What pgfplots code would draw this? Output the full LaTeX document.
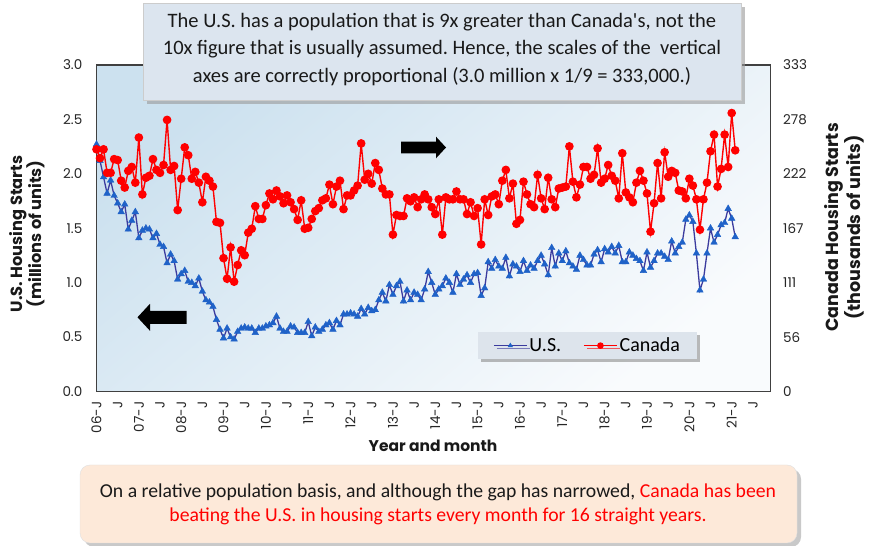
\documentclass[border=0pt]{standalone}
\usepackage{pgfplots}
\pgfplotsset{compat=1.18}
\usepackage{pgfplotstable}
\usepackage{fontspec}
\usetikzlibrary{shadows}
\setmainfont{Carlito}
\newfontfamily\gothic{Poppins}
\frenchspacing

\definecolor{usline}{HTML}{3B3B9E}
\definecolor{usmark}{HTML}{1F62C8}
\definecolor{canred}{HTML}{FF0000}
\definecolor{topbox}{HTML}{DCE5EF}
\definecolor{botbox}{HTML}{FDE9D9}
\definecolor{legbox}{HTML}{DDE4EC}
\definecolor{frame}{HTML}{404040}
\definecolor{bgblue}{HTML}{CCE1EF}
\definecolor{bgwhite}{HTML}{F9FBFD}

% U.S. starts, millions, month 0 = Jan 2006
\pgfplotstableread{
m us
0 2.27
1 2.12
2 1.97
3 1.82
4 1.94
5 1.80
6 1.73
7 1.65
8 1.72
9 1.49
10 1.57
11 1.65
12 1.41
13 1.48
14 1.50
15 1.49
16 1.41
17 1.45
18 1.35
19 1.33
20 1.18
21 1.26
22 1.20
23 1.03
24 1.08
25 1.11
26 1.01
27 1.00
28 0.97
29 1.04
30 0.92
31 0.84
32 0.82
33 0.78
34 0.66
35 0.57
36 0.49
37 0.58
38 0.50
39 0.48
40 0.55
41 0.58
42 0.59
43 0.58
44 0.58
45 0.54
46 0.58
47 0.58
48 0.60
49 0.61
50 0.63
51 0.69
52 0.58
53 0.55
54 0.55
55 0.60
56 0.59
57 0.54
58 0.54
59 0.54
60 0.64
61 0.51
62 0.59
63 0.55
64 0.57
65 0.61
66 0.63
67 0.57
68 0.65
69 0.61
70 0.71
71 0.71
72 0.72
73 0.71
74 0.69
75 0.76
76 0.71
77 0.77
78 0.74
79 0.75
80 0.84
81 0.91
82 0.83
83 0.98
84 0.89
85 0.97
86 1.01
87 0.83
88 0.93
89 0.84
90 0.91
91 0.89
92 0.84
93 0.94
94 1.10
95 1.00
96 0.89
97 0.94
98 0.97
99 1.04
100 1.00
101 0.91
102 1.08
103 0.98
104 1.03
105 1.07
106 1.00
107 1.08
108 1.09
109 0.88
110 0.95
111 1.19
112 1.13
113 1.21
114 1.15
115 1.13
116 1.23
117 1.06
118 1.17
119 1.15
120 1.10
121 1.20
122 1.11
123 1.16
124 1.13
125 1.20
126 1.25
127 1.17
128 1.07
129 1.32
130 1.15
131 1.27
132 1.20
133 1.29
134 1.18
135 1.15
136 1.12
137 1.25
138 1.21
139 1.16
140 1.16
141 1.26
142 1.30
143 1.19
144 1.31
145 1.28
146 1.33
147 1.27
148 1.34
149 1.19
150 1.19
151 1.28
152 1.25
153 1.22
154 1.20
155 1.11
156 1.28
157 1.14
158 1.20
159 1.27
160 1.27
161 1.24
162 1.21
163 1.38
164 1.27
165 1.33
166 1.37
167 1.58
168 1.62
169 1.56
170 1.27
171 0.93
172 1.03
173 1.27
174 1.50
175 1.37
176 1.44
177 1.53
178 1.55
179 1.68
180 1.59
181 1.42
}\usdata

% Canada starts, thousands
\pgfplotstableread{
m can
0 247
1 238
2 247
3 223
4 223
5 237
6 236
7 215
8 208
9 225
10 229
11 213
12 259
13 201
14 218
15 220
16 237
17 226
18 223
19 231
20 277
21 226
22 230
23 185
24 217
25 249
26 241
27 217
28 224
29 213
30 193
31 219
32 215
33 209
34 173
35 172
36 136
37 115
38 147
39 112
40 129
41 144
42 139
43 162
44 166
45 189
46 176
47 176
48 190
49 202
50 196
51 205
52 199
53 192
54 200
55 193
56 186
57 175
58 195
59 166
60 167
61 176
62 184
63 187
64 195
65 197
66 211
67 191
68 209
69 215
70 186
71 200
72 200
73 205
74 210
75 253
76 216
77 222
78 212
79 233
80 226
81 207
82 201
83 201
84 160
85 180
86 179
87 179
88 197
89 194
90 198
91 188
92 196
93 201
94 196
95 188
96 181
97 196
98 160
99 198
100 196
101 196
102 204
103 196
104 196
105 181
106 193
107 179
108 187
109 150
110 196
111 180
112 199
113 201
114 191
115 215
116 226
117 197
118 212
119 171
120 175
121 214
122 201
123 191
124 188
125 221
126 197
127 186
128 218
129 196
130 188
131 207
132 208
133 209
134 250
135 214
136 198
137 211
138 229
139 229
140 217
141 221
142 248
143 213
144 217
145 231
146 220
147 215
148 197
149 243
150 203
151 198
152 193
153 213
154 225
155 215
156 202
157 163
158 192
159 233
160 197
161 244
162 219
163 225
164 223
165 205
166 204
167 197
168 217
169 210
170 196
171 165
172 196
173 213
174 245
175 262
176 209
177 227
178 262
179 229
180 284
181 246
}\candata

\begin{document}
\begin{tikzpicture}[x=1pt,y=1pt]
\fill[white] (0pt,0pt) rectangle (870pt,546pt);
\useasboundingbox (0pt,0pt) rectangle (870pt,546pt);
\coordinate (origin) at (96.5pt,154.5pt);

\pgfplotsset{
  common/.style={
    at={(origin)}, anchor=south west,
    scale only axis, width=674pt, height=326.5pt,
    xmin=0, xmax=191, clip=false,
    major tick length=0pt,
    tick label style={font=\gothic\fontsize{13.5}{15}\selectfont, text=black!85, inner sep=0pt},
    /pgf/number format/assume math mode=true,
  },
}

\begin{axis}[
  common,
  ymin=0, ymax=3,
  ytick={0,0.5,1,1.5,2,2.5,3},
  yticklabel style={/pgf/number format/.cd, fixed, fixed zerofill, precision=1},
  yticklabel shift=14pt,
  xtick={0,6,...,186},
  xticklabels={06-J,J,07-J,J,08-J,J,09-J,J,10-J,J,11-J,J,12-J,J,13-J,J,14-J,J,15-J,J,16-J,J,17-J,J,18-J,J,19-J,J,20-J,J,21-J,J},
  xticklabel style={rotate=90, anchor=east},
  xticklabel shift=10pt,
  tick pos=left,
  axis line style={draw=frame, line width=1.2pt},
  axis background/.style={top color=bgblue, bottom color=bgwhite, shading angle=40},
]
\addplot[color=usline, line width=1.3pt, mark=triangle*, mark size=3.8pt,
  mark options={fill=usmark, draw=usmark, line width=0.4pt}]
  table[x=m, y=us] {\usdata};
\end{axis}

\begin{axis}[
  common,
  ymin=0, ymax=333,
  ytick={0,55.5,111,166.5,222,277.5,333},
  yticklabels={0,56,111,167,222,278,333},
  ytick pos=right,
  yticklabel shift=12.5pt,
  hide x axis,
  axis line style={draw=none},
  legend columns=2,
  legend style={at={(0.566,0.183)}, anchor=north west, fill=legbox, draw=none,
    drop shadow={shadow xshift=3pt, shadow yshift=-3pt, fill=black!45, opacity=0.6},
    font=\fontsize{20}{22}\selectfont, inner xsep=15pt, inner ysep=4pt,
    /tikz/every even column/.append style={column sep=20pt}},
  legend image code/.code={\draw[mark repeat=2, mark phase=2, #1, mark size=2.6pt]
    plot coordinates {(0pt,0pt) (16.5pt,0pt) (33pt,0pt)};},
]
\addlegendimage{color=usline, line width=1.3pt, mark=triangle*, mark size=3.8pt,
  mark options={fill=usmark, draw=usmark, line width=0.4pt}}
\addlegendentry{U.S.}
\addplot[color=canred, line width=1.4pt, mark=*, mark size=3.6pt,
  mark options={fill=canred, draw=canred}]
  table[x=m, y=can] {\candata};
\addlegendentry{Canada}
\end{axis}

% arrows pointing to each scale
\fill (137.5,228.7) -- (150,242.2) -- (150,235.2) -- (186.5,235.2) -- (186.5,222.2) -- (150,222.2) -- (150,215.2) -- cycle;
\fill (446,398.5) -- (436,409.3) -- (436,404.3) -- (401,404.3) -- (401,392.7) -- (436,392.7) -- (436,387.7) -- cycle;

% axis titles
\node[rotate=90, align=center, text=black!90, font=\gothic\bfseries\fontsize{16.2}{19.5}\selectfont]
  at (27,312) {U.S. Housing Starts\\(millions of units)};
\node[rotate=90, align=center, text=black!90, font=\gothic\bfseries\fontsize{17.5}{18.5}\selectfont]
  at (844,318.5) {Canada Housing Starts\\(thousands of units)};
\node[text=black!90, font=\gothic\bfseries\fontsize{15.5}{18}\selectfont] at (433,100) {Year and month};

% note on top
\fill[black!40, opacity=0.6] (147,442) rectangle (745,539);
\filldraw[fill=topbox, draw=black!20] (143,446) rectangle (741,543);
\node[align=center, text=black!90, font=\fontsize{20.5}{27.5}\selectfont] at (442,496.5)
  {The U.S. has a population that is 9x greater than Canada\textquotesingle s, not the\\
   10x figure that is usually assumed. Hence, the scales of the \ vertical\\
   axes are correctly proportional (3.0 million x 1/9 = 333,000.)};

% note at the bottom
\fill[black!35, opacity=0.6, rounded corners=10pt] (84,-1) rectangle (801,77);
\filldraw[fill=botbox, draw=black!12, rounded corners=10pt] (80,3) rectangle (797,81);
\node[align=center, text=black!90, font=\fontsize{19.7}{24}\selectfont] at (438,42)
  {On a relative population basis, and although the gap has narrowed, \textcolor{red}{Canada has been}\\
   \textcolor{red}{beating the U.S. in housing starts every month for 16 straight years.}};
\end{tikzpicture}
\end{document}
